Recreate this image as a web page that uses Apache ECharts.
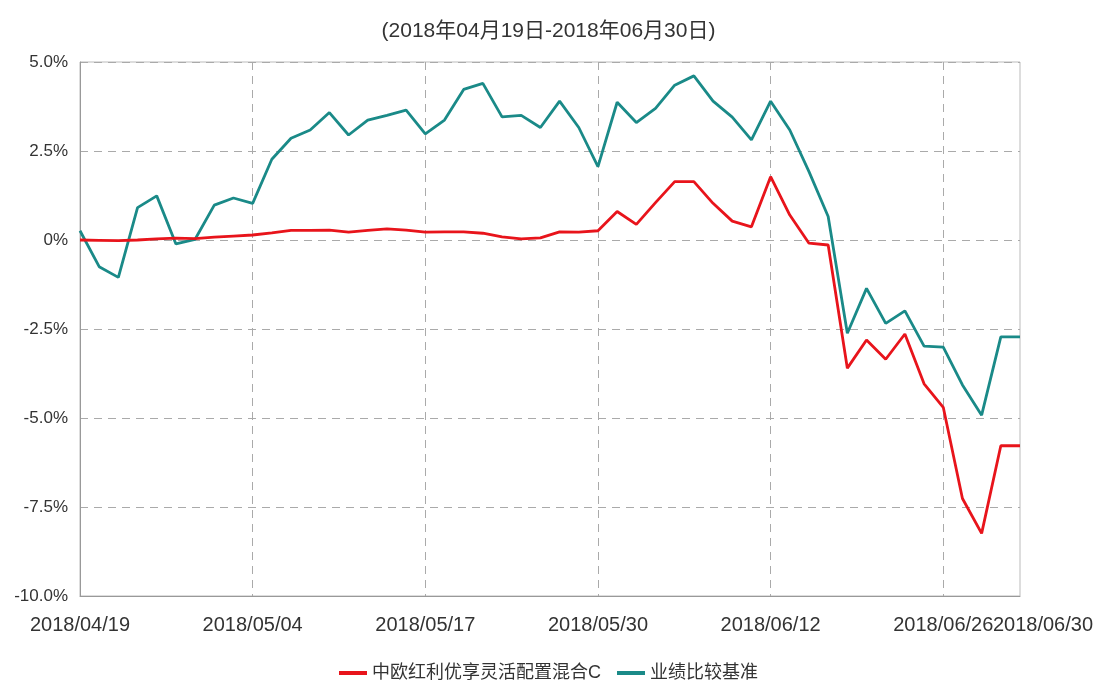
<!DOCTYPE html>
<html>
<head>
<meta charset="utf-8">
<script src="https://cdn.jsdelivr.net/npm/echarts@6/dist/echarts.min.js"></script>
<style>
html,body{margin:0;padding:0;background:#fff;}
#chart{width:1097px;height:689px;}
</style>
</head>
<body>
<div id="chart"></div>
<script>
const titleText = '(2018年04月19日-2018年06月30日)';
const dates = [
  '2018/04/19','2018/04/20','2018/04/23','2018/04/24','2018/04/25','2018/04/26','2018/04/27','2018/05/02','2018/05/03','2018/05/04',
  '2018/05/07','2018/05/08','2018/05/09','2018/05/10','2018/05/11','2018/05/14','2018/05/15','2018/05/16','2018/05/17',
  '2018/05/18','2018/05/21','2018/05/22','2018/05/23','2018/05/24','2018/05/25','2018/05/28','2018/05/29','2018/05/30',
  '2018/05/31','2018/06/01','2018/06/04','2018/06/05','2018/06/06','2018/06/07','2018/06/08','2018/06/11','2018/06/12',
  '2018/06/13','2018/06/14','2018/06/15','2018/06/19','2018/06/20','2018/06/21','2018/06/22','2018/06/25','2018/06/26',
  '2018/06/27','2018/06/28','2018/06/29','2018/06/30'
];
const labelIndexes = [0, 9, 18, 27, 36, 45];
const lastIndex = dates.length - 1;
const fundName = '中欧红利优享灵活配置混合C';
const benchName = '业绩比较基准';
const fundValues = [
  0.00, -0.01, -0.02, 0.00, 0.03, 0.05, 0.04, 0.08, 0.11, 0.14,
  0.20, 0.27, 0.27, 0.28, 0.22, 0.27, 0.31, 0.28, 0.22,
  0.23, 0.23, 0.19, 0.09, 0.03, 0.06, 0.23, 0.22, 0.26,
  0.80, 0.44, 1.05, 1.64, 1.64, 1.03, 0.53, 0.37, 1.78,
  0.70, -0.09, -0.14, -3.60, -2.81, -3.35, -2.64, -4.04, -4.70,
  -7.26, -8.24, -5.78, -5.78
];
const benchValues = [
  0.26, -0.75, -1.05, 0.91, 1.24, -0.11, 0.02, 0.98, 1.18, 1.03,
  2.27, 2.86, 3.09, 3.58, 2.95, 3.37, 3.50, 3.65, 2.98,
  3.37, 4.23, 4.40, 3.46, 3.50, 3.16, 3.90, 3.16, 2.06,
  3.87, 3.30, 3.70, 4.35, 4.61, 3.90, 3.45, 2.81, 3.90,
  3.09, 1.92, 0.66, -2.62, -1.36, -2.34, -1.99, -2.98, -3.01,
  -4.07, -4.92, -2.72, -2.72
];
const yTickValues = [5, 2.5, 0, -2.5, -5, -7.5, -10];
const yTickLabels = ['5.0%', '2.5%', '0%', '-2.5%', '-5.0%', '-7.5%', '-10.0%'];

const FONT = '"Liberation Sans", Arial, "Noto Sans CJK SC", sans-serif';
const chart = echarts.init(document.getElementById('chart'));
chart.setOption({
  backgroundColor: '#fff',
  animation: false,
  title: {
    text: titleText,
    left: 'center',
    top: 16,
    textStyle: { fontFamily: FONT, fontSize: 21, fontWeight: 'normal', color: '#333' }
  },
  legend: {
    data: [fundName, benchName],
    bottom: 2,
    left: 'center',
    icon: 'rect',
    itemWidth: 28,
    itemHeight: 4,
    itemGap: 16,
    textStyle: { fontFamily: FONT, fontSize: 18, color: '#333' }
  },
  grid: {
    left: 80, right: 77, top: 62, bottom: 93,
    show: true, borderColor: '#bbb', borderWidth: 1
  },
  xAxis: [
    {
      type: 'category',
      data: dates,
      boundaryGap: false,
      axisLine: { onZero: false, lineStyle: { color: '#999', width: 1 } },
      axisTick: { show: false },
      axisLabel: {
        interval: function (i) { return labelIndexes.indexOf(i) >= 0; },
        showMinLabel: true,
        showMaxLabel: true,
        hideOverlap: false,
        fontFamily: FONT, fontSize: 20, color: '#333', margin: 19
      },
      splitLine: {
        show: true,
        interval: function (i) { return labelIndexes.indexOf(i) > 0; },
        lineStyle: { color: '#aaa', type: [8, 6], width: 1 }
      }
    },
    {
      type: 'category',
      data: dates,
      boundaryGap: false,
      position: 'bottom',
      axisLine: { show: false, onZero: false },
      axisTick: { show: false },
      splitLine: { show: false },
      axisLabel: {
        interval: function (i) { return i === lastIndex; },
        showMinLabel: true,
        showMaxLabel: true,
        hideOverlap: false,
        margin: 19,
        formatter: function (v) { return '{s|}{a|' + v + '}'; },
        rich: {
          s: { width: 46 },
          a: { backgroundColor: '#fff', fontFamily: FONT, fontSize: 20, color: '#333' }
        }
      }
    }
  ],
  yAxis: {
    type: 'value',
    min: -10, max: 5, interval: 2.5,
    axisLine: { show: true, lineStyle: { color: '#999', width: 1 } },
    axisTick: { show: false },
    axisLabel: {
      fontFamily: FONT, fontSize: 17, color: '#333', margin: 12,
      formatter: function (v) {
        const k = yTickValues.findIndex(t => Math.abs(t - v) < 1e-9);
        return k >= 0 ? yTickLabels[k] : '';
      }
    },
    splitLine: { show: true, lineStyle: { color: '#aaa', type: [8, 6], width: 1 } }
  },
  series: [
    {
      name: benchName, type: 'line', data: benchValues, xAxisIndex: 0,
      symbol: 'none', lineStyle: { color: '#1a8a88', width: 2.8 }, itemStyle: { color: '#1a8a88' }
    },
    {
      name: fundName, type: 'line', data: fundValues, xAxisIndex: 0,
      symbol: 'none', lineStyle: { color: '#e8141b', width: 2.8 }, itemStyle: { color: '#e8141b' }
    }
  ]
});
</script>
</body>
</html>
